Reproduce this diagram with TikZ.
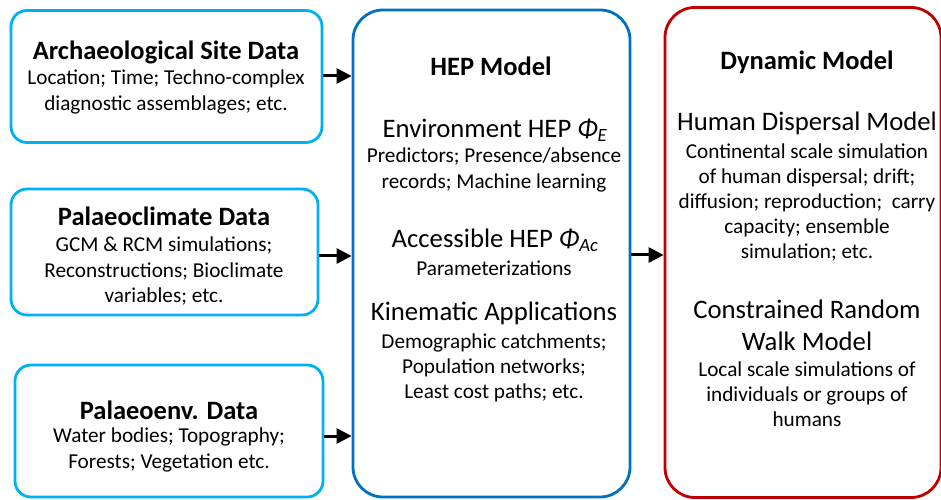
\documentclass[tikz,border=0pt]{standalone}
\usepackage{fontspec}
\setmainfont{Carlito}
\usetikzlibrary{arrows.meta}
\definecolor{datablue}{HTML}{00B0F0}
\definecolor{hepblue}{HTML}{0070C0}
\definecolor{dynred}{HTML}{C00000}
\tikzset{
  databox/.style={draw=datablue, line width=2.8bp, rounded corners=16bp, fill=white, inner sep=0pt},
  bigbox/.style={line width=2.8bp, rounded corners=30bp, fill=white, inner sep=0pt},
  title/.style={inner sep=0pt, font=\fontsize{26.6}{30}\selectfont\bfseries},
  head/.style={inner sep=0pt, font=\fontsize{26.8}{32}\selectfont, align=center},
  body/.style={inner sep=0pt, font=\fontsize{21.3}{25.2}\selectfont, align=center},
  flow/.style={line width=3bp, -{Triangle[length=15bp,width=15bp]}}
}
\begin{document}
\begin{tikzpicture}[x=1bp,y=-1bp]
\useasboundingbox (0,0) rectangle (941,500);
% input data boxes
\node[databox, minimum width=311bp, minimum height=132bp] (site) at (166.5,76.5) {};
\node[databox, minimum width=307bp, minimum height=126bp] (clim) at (164.5,252) {};
\node[databox, minimum width=308bp, minimum height=132bp] (env) at (169,431) {};
% model boxes
\node[bigbox, draw=hepblue, minimum width=277bp, minimum height=487bp] (hep) at (491.5,253.5) {};
\node[bigbox, draw=dynred, minimum width=276bp, minimum height=490bp] (dyn) at (803,252.5) {};

% texts of the data boxes
\node[title] (siteT) at (166,52) {Archaeological Site Data};
\node[body] (siteB) at (166,92) {Location; Time; Techno-complex\\diagnostic assemblages; etc.};
\node[title] (climT) at (164,216) {Palaeoclimate Data};
\node[body] (climB) at (164,271) {GCM \& RCM simulations;\\Reconstructions; Bioclimate\\variables; etc.};
\node[title] (envT) at (169,410) {Palaeoenv. Data};
\node[body] (envB) at (169,450) {Water bodies; Topography;\\Forests; Vegetation etc.};

% texts of the HEP model
\node[title] (hepT) at (491,66) {HEP Model};
\node[head] (envH) at (495,130) {Environment HEP \textit{Φ\textsubscript{E}}};
\node[body] (envHB) at (494,170) {Predictors; Presence/absence\\records; Machine learning};
\node[head] (accH) at (495,240) {Accessible HEP \textit{Φ\textsubscript{Ac}}};
\node[body] (accHB) at (494,268) {Parameterizations};
\node[head] (kinH) at (494,313) {Kinematic Applications};
\node[body] (kinHB) at (494,368) {Demographic catchments;\\Population networks;\\Least cost paths; etc.};

% texts of the dynamic model
\node[title] (dynT) at (807,62) {Dynamic Model};
\node[head] (hdmH) at (807,123) {Human Dispersal Model};
\node[body] (hdmB) at (807,202.5) {Continental scale simulation\\of human dispersal; drift;\\diffusion; reproduction;~ carry\\capacity; ensemble\\simulation; etc.};
\node[head] (crwH) at (807,325) {Constrained Random\\Walk Model};
\node[body] (crwB) at (807,394.5) {Local scale simulations of\\individuals or groups of\\humans};

% connectors
\draw[flow] (site.east |- 0,76) -- (hep.west |- 0,76);
\draw[flow] (clim.east |- 0,256) -- (hep.west |- 0,256);
\draw[flow] (env.east |- 0,436) -- (hep.west |- 0,436);
\draw[flow] (hep.east |- 0,255) -- (dyn.west |- 0,255);
\end{tikzpicture}
\end{document}
